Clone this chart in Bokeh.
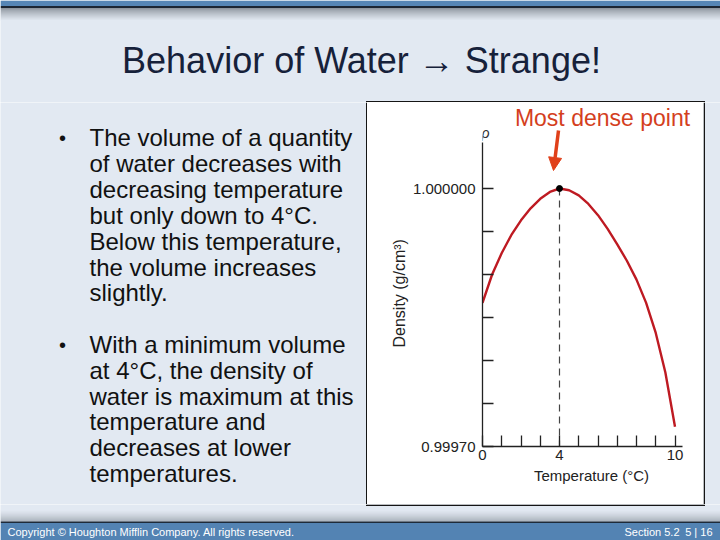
from bokeh.plotting import figure
from bokeh.layouts import column, row
from bokeh.models import Range1d, FixedTicker, Label, Arrow, NormalHead, Title
from bokeh.core.properties import value
from bokeh.embed import file_html
from bokeh.resources import INLINE

# ---------------- data ----------------
temps = [0, 0.5, 1, 1.5, 2, 2.5, 3, 3.5, 4, 4.5, 5, 5.5, 6, 6.5, 7, 7.5, 8, 8.5, 9, 9.5, 10]
density = [0.999867, 0.999900, 0.999925, 0.999946, 0.999963, 0.999977, 0.999988, 0.999996,
           1.000000, 0.999998, 0.999992, 0.999982, 0.999969, 0.999953, 0.999935, 0.999916,
           0.999894, 0.999867, 0.999832, 0.999786, 0.999723]
y_ticks = [0.99970, 0.99975, 0.99980, 0.99985, 0.99990, 0.99995, 1.00000]
y_tick_labels = {0.99970: "0.99970", 1.00000: "1.000000"}
x_ticks = [0, 1, 2, 3, 4, 5, 6, 7, 8, 9, 10]
x_tick_labels = {0: "0", 4: "4", 10: "10"}

title_text = "Behavior of Water \u2192 Strange!"
bullet1 = ["The volume of a quantity", "of water decreases with", "decreasing temperature",
           "but only down to 4\u00b0C.", "Below this temperature,", "the volume increases", "slightly."]
bullet2 = ["With a minimum volume", "at 4\u00b0C, the density of", "water is maximum at this",
           "temperature and", "decreases at lower", "temperatures."]
footer_left = "Copyright \u00a9 Houghton Mifflin Company. All rights reserved."
footer_section = "Section 5.2"
footer_page = "5 | 16"
annot_text = "Most dense point"
y_label = "Density (g/cm\u00b3)"
x_label = "Temperature (\u00b0C)"

# ---------------- style ----------------
BG = "#E2E9F2"
FONT = "Liberation Sans"
W = 720
HEAD_H, MID_H, FOOT_H = 102, 402, 36
TEXT_W, CHART_W, FILL_W = 367, 336, 17
BOX = "#151515"


def deco(w, h):
    p = figure(width=w, height=h, x_range=Range1d(0, w), y_range=Range1d(h, 0),
               output_backend="svg", toolbar_location=None,
               x_axis_location=None, y_axis_location=None, min_border=0)
    p.background_fill_color = BG
    p.border_fill_color = BG
    p.outline_line_color = None
    p.xgrid.visible = False
    p.ygrid.visible = False
    return p


def mix(c1, c2, t):
    return "#%02x%02x%02x" % tuple(int(round(a + (b - a) * t)) for a, b in zip(c1, c2))


bg_rgb = (0xE2, 0xE9, 0xF2)
gray_rgb = (0x8E, 0x96, 0x9F)

# ---------------- header ----------------
head = deco(W, HEAD_H)
head.quad(left=[0], right=[W], top=[0], bottom=[5.5], fill_color="#5686B6", line_color=None)
head.quad(left=[0], right=[W], top=[5.5], bottom=[7.5], fill_color="#1C2633", line_color=None)
n = 13
head.quad(left=[0] * n, right=[W] * n, top=[7.5 + i for i in range(n)], bottom=[8.5 + i for i in range(n)],
          fill_color=[mix(gray_rgb, bg_rgb, (i / (n - 1)) ** 0.8) for i in range(n)], line_color=None)
head.text(x=[361], y=[60], text=[title_text], text_font=value(FONT), text_font_size="36px",
          text_align="center", text_baseline="middle", text_color="#16213A")
head.quad(left=[TEXT_W - 1.5], right=[TEXT_W + CHART_W + 1.5], top=[HEAD_H - 1.5], bottom=[HEAD_H],
          fill_color=BOX, line_color=None)

# ---------------- left text ----------------
txt = deco(TEXT_W, MID_H)
y1 = [137 + 25.9 * i - HEAD_H for i in range(len(bullet1))]
y2 = [344 + 25.8 * i - HEAD_H for i in range(len(bullet2))]
txt.text(x=[89] * (len(bullet1) + len(bullet2)), y=y1 + y2, text=bullet1 + bullet2,
         text_font=value(FONT), text_font_size="24px", text_align="left", text_baseline="middle",
         text_color="#111111")
txt.text(x=[62, 62], y=[y1[0], y2[0]], text=["\u2022", "\u2022"], text_font=value(FONT),
         text_font_size="20px", text_align="center", text_baseline="middle", text_color="#111111")
txt.quad(left=[TEXT_W - 1.5], right=[TEXT_W], top=[0], bottom=[MID_H], fill_color=BOX, line_color=None)

# ---------------- chart ----------------
px_per_deg = 19.25
px_per_unit = 43 / 0.00005
left_b, right_b, top_b, bot_b = 115, 3, 3, 58
fw = CHART_W - left_b - right_b
fh = MID_H - top_b - bot_b
y0 = y_ticks[0]
axis_top = y0 + 304 / px_per_unit
axis_right = 200 / px_per_deg
chart = figure(width=CHART_W, height=MID_H, x_range=Range1d(0, fw / px_per_deg),
               y_range=Range1d(y0, y0 + fh / px_per_unit), output_backend="svg",
               toolbar_location=None, min_border_left=left_b, min_border_right=right_b,
               min_border_top=top_b, min_border_bottom=bot_b)
chart.background_fill_color = "white"
chart.border_fill_color = "white"
chart.outline_line_color = None
chart.xgrid.visible = False
chart.ygrid.visible = False

for ax in (chart.xaxis[0], chart.yaxis[0]):
    ax.axis_line_color = "#222222"
    ax.axis_line_width = 1.3
    ax.major_tick_line_color = "#222222"
    ax.major_tick_line_width = 1.3
    ax.major_tick_in = 11
    ax.major_tick_out = 0
    ax.minor_tick_line_color = None
    ax.major_label_text_font = FONT
    ax.major_label_text_font_size = "15px"
    ax.major_label_text_color = "#222222"
    ax.axis_label_text_font = FONT
    ax.axis_label_text_font_size = "15px"
    ax.axis_label_text_font_style = "normal"
    ax.axis_label_text_color = "#222222"

chart.yaxis.bounds = (y0, axis_top)
chart.yaxis.ticker = FixedTicker(ticks=y_ticks)
chart.yaxis.major_label_overrides = {t: y_tick_labels.get(t, "") for t in y_ticks}
chart.yaxis.major_label_standoff = 7
chart.xaxis.bounds = (0, axis_right)
chart.xaxis.ticker = FixedTicker(ticks=x_ticks)
chart.xaxis.major_label_overrides = {t: x_tick_labels.get(t, "") for t in x_ticks}
chart.xaxis.major_label_standoff = 3
chart.xaxis.axis_label = x_label
chart.xaxis.axis_label_standoff = 4

# y axis title, placed along the axis' own extent (not the taller frame)
ytitle = Title(text=y_label, align="left", offset=99, standoff=3, text_font=FONT,
               text_font_size="16px", text_font_style="normal", text_color="#222222")
chart.add_layout(ytitle, "left")

peak_i = density.index(max(density))
peak_t, peak_d = temps[peak_i], density[peak_i]
chart.segment(x0=[peak_t], y0=[peak_d], x1=[peak_t], y1=[y0], line_color="#444444",
              line_width=1.2, line_dash="7 5")
chart.line(temps, density, line_color="#BE1A22", line_width=2.4)
chart.scatter([peak_t], [peak_d], size=6, color="black")

rho = Label(x=0, y=y0 + 314 / px_per_unit, x_offset=-1, text="\u03c1", text_font=FONT,
            text_font_size="14px", text_font_style="italic", text_color="#333333",
            text_align="left", text_baseline="middle")
chart.add_layout(rho)
annot = Label(x=120 / px_per_deg, y=y0 + 329 / px_per_unit, text=annot_text,
              text_font=FONT, text_font_size="23px", text_color="#D43F1E",
              text_align="center", text_baseline="middle")
chart.add_layout(annot)
arrow = Arrow(x_start=76 / px_per_deg, y_start=y0 + 316 / px_per_unit,
              x_end=71 / px_per_deg, y_end=y0 + 276 / px_per_unit,
              line_color="#E0401A", line_width=3.5,
              end=NormalHead(size=13, fill_color="#E0401A", line_color="#E0401A"))
chart.add_layout(arrow)

fill = deco(FILL_W, MID_H)
fill.quad(left=[0], right=[1.5], top=[0], bottom=[MID_H], fill_color=BOX, line_color=None)

# ---------------- footer ----------------
foot = deco(W, FOOT_H)
foot.quad(left=[TEXT_W - 1.5], right=[TEXT_W + CHART_W + 1.5], top=[0], bottom=[1.5],
          fill_color=BOX, line_color=None)
footgray = (0x9C, 0xA4, 0xAD)
m = 12
foot.quad(left=[0] * m, right=[W] * m, top=[5 + i for i in range(m)], bottom=[6 + i for i in range(m)],
          fill_color=[mix(bg_rgb, footgray, (i / (m - 1)) ** 1.3) for i in range(m)], line_color=None)
foot.quad(left=[0], right=[W], top=[17], bottom=[18.5], fill_color="#1E2A38", line_color=None)
foot.quad(left=[0], right=[W], top=[18.5], bottom=[FOOT_H], fill_color="#5383B3", line_color=None)
foot.text(x=[7], y=[27], text=[footer_left], text_font=value(FONT), text_font_size="11px",
          text_align="left", text_baseline="middle", text_color="white")
foot.text(x=[679, 712], y=[27, 27], text=[footer_section, footer_page], text_font=value(FONT),
          text_font_size="11px", text_align="right", text_baseline="middle", text_color="white")

layout = column(head, row(column(txt), chart, column(fill), spacing=0), foot, spacing=0)

open("out.html", "w").write(file_html(layout, INLINE))
